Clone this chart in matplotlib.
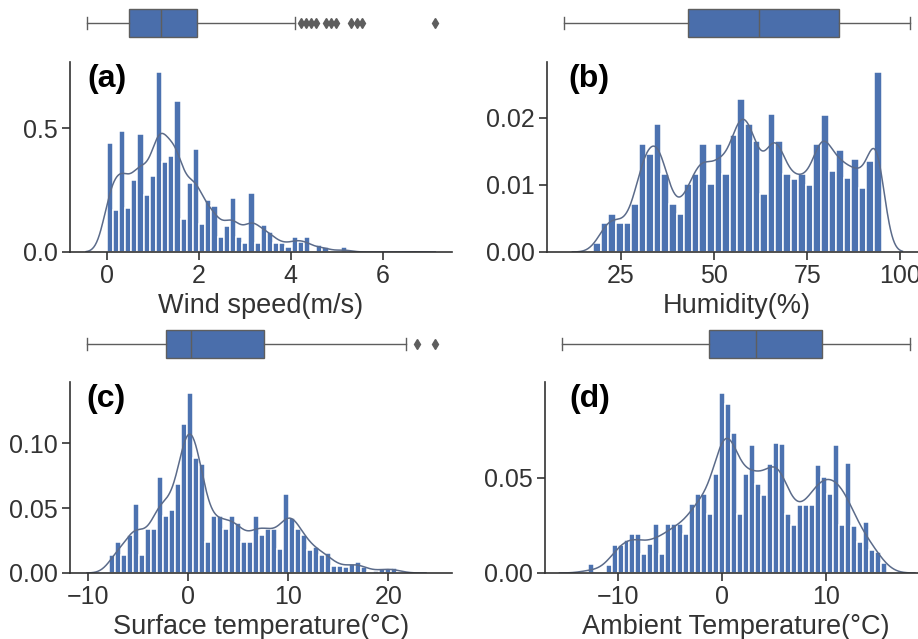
import numpy as np
import matplotlib
matplotlib.use('Agg')
import matplotlib.pyplot as plt
from matplotlib.ticker import FormatStrFormatter

plt.rcParams['font.family'] = ['Liberation Sans', 'DejaVu Sans']

BAR = '#4C72B0'
BOX = '#4a6eab'
GREY = '#5e5e5e'
KDE_C = '#5b6b8a'
INK = '#333333'

# ── (a) vitesse du vent : histogramme (densité) + boîte ────────────────────
wind_start, wind_width = 0.0, 0.134
wind_hist = [0.442, 0.170, 0.489, 0.179, 0.292, 0.477, 0.229, 0.309, 0.726, 0.364,
             0.388, 0.609, 0.132, 0.279, 0.415, 0.113, 0.209, 0.186, 0.062, 0.105,
             0.218, 0.059, 0.038, 0.240, 0.038, 0.111, 0.082, 0.038, 0.038, 0.022,
             0.062, 0.040, 0.059, 0.000, 0.027, 0.022, 0.000, 0.000, 0.022, 0.000,
             0.000, 0.000, 0.000, 0.000, 0.000, 0.000, 0.000, 0.000, 0.000, 0.003]
wind_box = dict(whislo=0.0, q1=0.80, med=1.41, q3=2.11, whishi=3.98)
wind_fliers = [4.10, 4.20, 4.29, 4.39, 4.58, 4.68, 4.78, 5.07, 5.18, 5.28, 6.67]

# ── (b) humidité ────────────────────────────────────────────────────────────
hum_start, hum_width = 17.5, 2.04
hum_hist = [0.0013, 0.0043, 0.0056, 0.0043, 0.0043, 0.0072, 0.0161, 0.0146, 0.0191, 0.0116,
            0.0072, 0.0057, 0.0101, 0.0116, 0.0161, 0.0101, 0.0161, 0.0116, 0.0175, 0.0228,
            0.0191, 0.0165, 0.0087, 0.0206, 0.0165, 0.0116, 0.0108, 0.0116, 0.0100, 0.0161,
            0.0204, 0.0121, 0.0152, 0.0110, 0.0139, 0.0095, 0.0135, 0.0268]
hum_box = dict(whislo=17.0, q1=44.9, med=61.0, q3=79.0, whishi=95.0)
hum_fliers = []

# ── (c) température de surface ─────────────────────────────────────────────
surf_start, surf_width = -7.9, 0.6
surf_hist = [0.0137, 0.0237, 0.0137, 0.0294, 0.0536, 0.0137, 0.0338, 0.0338, 0.0742, 0.0438,
             0.0490, 0.0688, 0.1147, 0.1390, 0.0889, 0.0840, 0.0237, 0.0438, 0.0438, 0.0338,
             0.0438, 0.0389, 0.0237, 0.0237, 0.0438, 0.0291, 0.0338, 0.0343, 0.0188, 0.0613,
             0.0428, 0.0338, 0.0291, 0.0180, 0.0200, 0.0137, 0.0157, 0.0052, 0.0052, 0.0046,
             0.0067, 0.0085, 0.0046, 0.0008, 0.0015, 0.0031, 0.0031, 0.0039, 0.0008, 0.0000]
surf_box = dict(whislo=-7.9, q1=-1.13, med=1.06, q3=7.39, whishi=19.6)
surf_fliers = [20.6, 22.1]

# ── (d) température ambiante ───────────────────────────────────────────────
amb_start, amb_width = -12.96, 0.577
amb_hist = [0.0047, 0.0000, 0.0000, 0.0044, 0.0148, 0.0148, 0.0174, 0.0204, 0.0204, 0.0101,
            0.0152, 0.0258, 0.0101, 0.0258, 0.0258, 0.0258, 0.0204, 0.0362, 0.0415, 0.0415,
            0.0310, 0.0520, 0.0944, 0.0889, 0.0732, 0.0307, 0.0520, 0.0672, 0.0467, 0.0411,
            0.0571, 0.0680, 0.0676, 0.0307, 0.0254, 0.0359, 0.0359, 0.0359, 0.0568, 0.0502,
            0.0415, 0.0671, 0.0254, 0.0575, 0.0249, 0.0162, 0.0267, 0.0122, 0.0110, 0.0054]
amb_box = dict(whislo=-12.96, q1=-0.78, med=3.11, q3=8.63, whishi=15.9)
amb_fliers = []


def kde_curve(start, width, heights, bw, n=500):
    h = np.asarray(heights, dtype=float)
    centers = start + width * (np.arange(len(h)) + 0.5)
    keep = h > 0
    c, w = centers[keep], h[keep] * width
    w = w / w.sum()
    x = np.linspace(c.min() - 3 * bw, c.max() + 3 * bw, n)
    y = (w[None, :] * np.exp(-0.5 * ((x[:, None] - c[None, :]) / bw) ** 2)).sum(1)
    return x, y / (bw * np.sqrt(2 * np.pi))


def px(l, t, r, b):
    W, H = 918, 639
    return [l / W, 1 - b / H, (r - l) / W, (b - t) / H]


def panel(fig, hist_rect, box_rect, start, width, heights, bw, stats, fliers,
          xlim, ylim, xticks, yticks, yfmt, xlabel, tag, tag_x):
    ax = fig.add_axes(hist_rect)
    edges = start + width * np.arange(len(heights))
    ax.bar(edges, heights, width=width, align='edge', color=BAR,
           edgecolor='white', linewidth=1.1)
    kx, ky = kde_curve(start, width, heights, bw)
    ax.plot(kx, ky, color=KDE_C, lw=1.1)
    ax.set_xlim(*xlim)
    ax.set_ylim(*ylim)
    ax.set_xticks(xticks)
    ax.set_yticks(yticks)
    ax.yaxis.set_major_formatter(FormatStrFormatter(yfmt))
    for s in ('top', 'right'):
        ax.spines[s].set_visible(False)
    for s in ('left', 'bottom'):
        ax.spines[s].set_color(INK)
        ax.spines[s].set_linewidth(1.2)
    ax.tick_params(direction='out', length=5.5, width=1.2, colors=INK,
                   labelsize=18, pad=3)
    ax.set_xlabel(xlabel, fontsize=19.5, color=INK, labelpad=4)
    ax.text(tag_x, 0.99, tag, transform=ax.transAxes, fontsize=23,
            fontweight='bold', va='top', ha='left', color='black')

    bax = fig.add_axes(box_rect)
    bax.bxp([dict(stats, fliers=fliers)], orientation='horizontal', widths=0.8,
            capwidths=0.35, patch_artist=True,
            boxprops=dict(facecolor=BOX, edgecolor=GREY, linewidth=1.0),
            medianprops=dict(color=GREY, linewidth=1.0),
            whiskerprops=dict(color=GREY, linewidth=1.0),
            capprops=dict(color=GREY, linewidth=1.0),
            flierprops=dict(marker='d', markerfacecolor=GREY, markeredgecolor=GREY,
                            markersize=5))
    bax.set_ylim(0.5, 1.5)
    bax.axis('off')


fig = plt.figure(figsize=(9.18, 6.39), dpi=100)

panel(fig, px(70, 62, 452, 252), px(70, 6, 452, 40),
      wind_start, wind_width, wind_hist, 0.17, wind_box, wind_fliers,
      (-0.793, 7.506), (0, 0.768), [0, 2, 4, 6], [0.0, 0.5], '%.1f',
      'Wind speed(m/s)', '(a)', 0.045)

panel(fig, px(547, 62, 927, 252), px(547, 6, 927, 40),
      hum_start, hum_width, hum_hist, 2.2, hum_box, hum_fliers,
      (5.1, 107.2), (0, 0.0283), [25, 50, 75, 100], [0.00, 0.01, 0.02], '%.2f',
      'Humidity(%)', '(b)', 0.055)

panel(fig, px(70, 382, 452, 573), px(70, 327, 452, 361),
      surf_start, surf_width, surf_hist, 0.85, surf_box, surf_fliers,
      (-11.85, 26.35), (0, 0.1474), [-10, 0, 10, 20], [0.00, 0.05, 0.10], '%.2f',
      'Surface temperature(°C)', '(c)', 0.042)

panel(fig, px(545, 382, 927, 573), px(545, 327, 927, 361),
      amb_start, amb_width, amb_hist, 1.0, amb_box, amb_fliers,
      (-17.07, 19.77), (0, 0.1002), [-10, 0, 10], [0.00, 0.05], '%.2f',
      'Ambient Temperature(°C)', '(d)', 0.064)

fig.savefig('out.png', dpi=100)
